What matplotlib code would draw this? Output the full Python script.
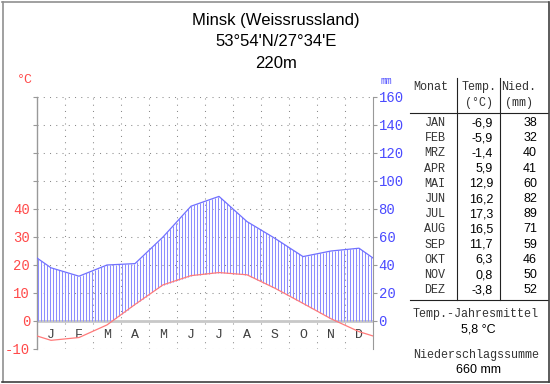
import numpy as np
import matplotlib
matplotlib.use("Agg")
import matplotlib.pyplot as plt
from matplotlib.lines import Line2D

# ---- data ----
months_short = ["J", "F", "M", "A", "M", "J", "J", "A", "S", "O", "N", "D"]
months_table = ["JAN", "FEB", "MRZ", "APR", "MAI", "JUN", "JUL", "AUG", "SEP", "OKT", "NOV", "DEZ"]
temps = [-6.9, -5.9, -1.4, 5.9, 12.9, 16.2, 17.3, 16.5, 11.7, 6.3, 0.8, -3.8]
precip = [38, 32, 40, 41, 60, 82, 89, 71, 59, 46, 50, 52]
temp_labels = ["-6,9", "-5,9", "-1,4", "5,9", "12,9", "16,2", "17,3", "16,5", "11,7", "6,3", "0,8", "-3,8"]
title_lines = ["Minsk (Weissrussland)", "53°54'N/27°34'E", "220m"]
annual_temp = "5,8 °C"
annual_precip = "660 mm"

W, H = 550, 384
fig = plt.figure(figsize=(W / 100, H / 100), dpi=100)
fig.patch.set_facecolor("white")

def P(x, y):
    return (x / W, 1 - y / H)

RED = "#ff4a4a"
RED_L = "#ff7a7a"
BLUE = "#4a4aff"
BLUE_L = "#7070ff"
HATCH = "#8c8cff"
GRID = "#8a8a8a"
MONO = "Liberation Mono"
SANS = "Liberation Sans"

# ---- axes ----
x0, x1, ytop, ybot = 37, 373, 97, 349
ax = fig.add_axes([x0 / W, 1 - ybot / H, (x1 - x0) / W, (ybot - ytop) / H])
ax.set_xlim(0, 12)
ax.set_ylim(-10, 80)
ax.set_facecolor("none")
for s in ["top", "bottom", "right"]:
    ax.spines[s].set_visible(False)
ax.spines["left"].set_color("#999999")
ax.spines["left"].set_linewidth(1.0)

# grid
for v in range(-10, 81, 10):
    if v == 0:
        continue
    ax.plot([0, 12], [v, v], color=GRID, lw=0.75, ls=(0, (1, 5)), zorder=1)
for m in range(1, 12):
    ax.plot([m, m], [-10, 80], color=GRID, lw=0.75, ls=(0, (1, 5)), zorder=1)
ax.plot([0, 12], [0, 0], color="#c8c8c8", lw=2.0, zorder=2, solid_capstyle="butt")

# curves (cyclic ends)
xc = np.arange(12) + 0.5
t_end = (temps[0] + temps[-1]) / 2
p_end = (precip[0] + precip[-1]) / 2
xs = np.concatenate([[0], xc, [12]])
ts = np.concatenate([[t_end], temps, [t_end]])
ps = np.concatenate([[p_end], precip, [p_end]]) / 2.0

# hatch
hx = np.arange(0.04, 12, 3 / 28)
ht = np.interp(hx, xs, ts)
hp = np.interp(hx, xs, ps)
lo = np.maximum(ht, 0)
mask = hp > lo
ax.vlines(hx[mask], lo[mask], hp[mask], color=HATCH, lw=0.75, zorder=3)

ax.plot(xs, ps, color=BLUE_L, lw=0.9, zorder=4)
ax.plot(xs, ts, color=RED_L, lw=0.9, zorder=4)

# left ticks
ax.set_yticks(range(-10, 81, 10))
ax.set_yticklabels([str(v) if v <= 40 else "" for v in range(-10, 81, 10)],
                   fontfamily=MONO, fontsize=10, color=RED)
ax.tick_params(axis="y", length=3, color="#999999", pad=2)
ax.set_xticks([])

# right axis
ax2 = ax.twinx()
ax2.set_ylim(-20, 160)
for s in ["top", "bottom", "left"]:
    ax2.spines[s].set_visible(False)
ax2.spines["right"].set_color("#999999")
ax2.set_yticks(range(0, 161, 20))
ax2.set_yticklabels([str(v) for v in range(0, 161, 20)], fontfamily=MONO, fontsize=10, color=BLUE)
ax2.tick_params(axis="y", length=3, color="#999999", pad=1)
ax2.set_xticks([])

# month labels
for i, m in enumerate(months_short):
    ax.text(i + 0.5, -5, m, ha="center", va="center", fontfamily=MONO, fontsize=9.5, color="#404040")

fig.text(*P(25, 80), "°C", ha="center", va="center", fontfamily=MONO, fontsize=9.5, color=RED)
fig.text(*P(386, 81), "mm", ha="center", va="center", fontfamily=MONO, fontsize=7, color=BLUE)

# title
for i, (t, y) in enumerate(zip(title_lines, [20, 42, 63])):
    fig.text(*P(276, y), t, ha="center", va="center", fontfamily=SANS, fontsize=12, color="black")

# table
tc = "#333333"
fs_m = 8.5
fig.text(*P(431, 87), "Monat", ha="center", va="center", fontfamily=MONO, fontsize=fs_m, color=tc)
fig.text(*P(479, 87), "Temp.", ha="center", va="center", fontfamily=MONO, fontsize=fs_m, color=tc)
fig.text(*P(479, 103), "(°C)", ha="center", va="center", fontfamily=MONO, fontsize=fs_m, color=tc)
fig.text(*P(519, 87), "Nied.", ha="center", va="center", fontfamily=MONO, fontsize=fs_m, color=tc)
fig.text(*P(519, 103), "(mm)", ha="center", va="center", fontfamily=MONO, fontsize=fs_m, color=tc)
for i in range(12):
    y = 123 + i * 15.2
    fig.text(*P(435, y), months_table[i], ha="center", va="center", fontfamily=MONO, fontsize=fs_m, color=tc)
    fig.text(*P(493, y), temp_labels[i], ha="right", va="center", fontfamily=SANS, fontsize=9, color="black")
    fig.text(*P(537, y), str(precip[i]), ha="right", va="center", fontfamily=SANS, fontsize=9, color="black")

lc = "#222222"
for xx in [457, 500]:
    fig.add_artist(Line2D([xx / W, xx / W], [1 - 78 / H, 1 - 300 / H], color=lc, lw=0.8))
fig.add_artist(Line2D([410 / W, 548 / W], [1 - 113 / H, 1 - 113 / H], color=lc, lw=0.8))
fig.add_artist(Line2D([410 / W, 548 / W], [1 - 300 / H, 1 - 300 / H], color=lc, lw=0.8))

fig.text(*P(476, 314), "Temp.-Jahresmittel", ha="center", va="center", fontfamily=MONO, fontsize=fs_m, color=tc)
fig.text(*P(478, 329), annual_temp, ha="center", va="center", fontfamily=SANS, fontsize=9, color="black")
fig.text(*P(476, 355), "Niederschlagssumme", ha="center", va="center", fontfamily=MONO, fontsize=fs_m, color=tc)
fig.text(*P(478, 370), annual_precip, ha="center", va="center", fontfamily=SANS, fontsize=9, color="black")

# outer frame
fig.add_artist(Line2D([2.5 / W, 2.5 / W], [1 - 2 / H, 1 - 381.5 / H], color="#909090", lw=1.2))
fig.add_artist(Line2D([2 / W, 548 / W], [1 - 1.5 / H, 1 - 1.5 / H], color="#909090", lw=1.2))
fig.add_artist(Line2D([2 / W, 548.5 / W], [1 - 381.5 / H, 1 - 381.5 / H], color="#404040", lw=1.2))
fig.add_artist(Line2D([548.5 / W, 548.5 / W], [1 - 1.5 / H, 1 - 381.5 / H], color="#404040", lw=1.2))

fig.savefig("out.png", dpi=100, facecolor="white")
